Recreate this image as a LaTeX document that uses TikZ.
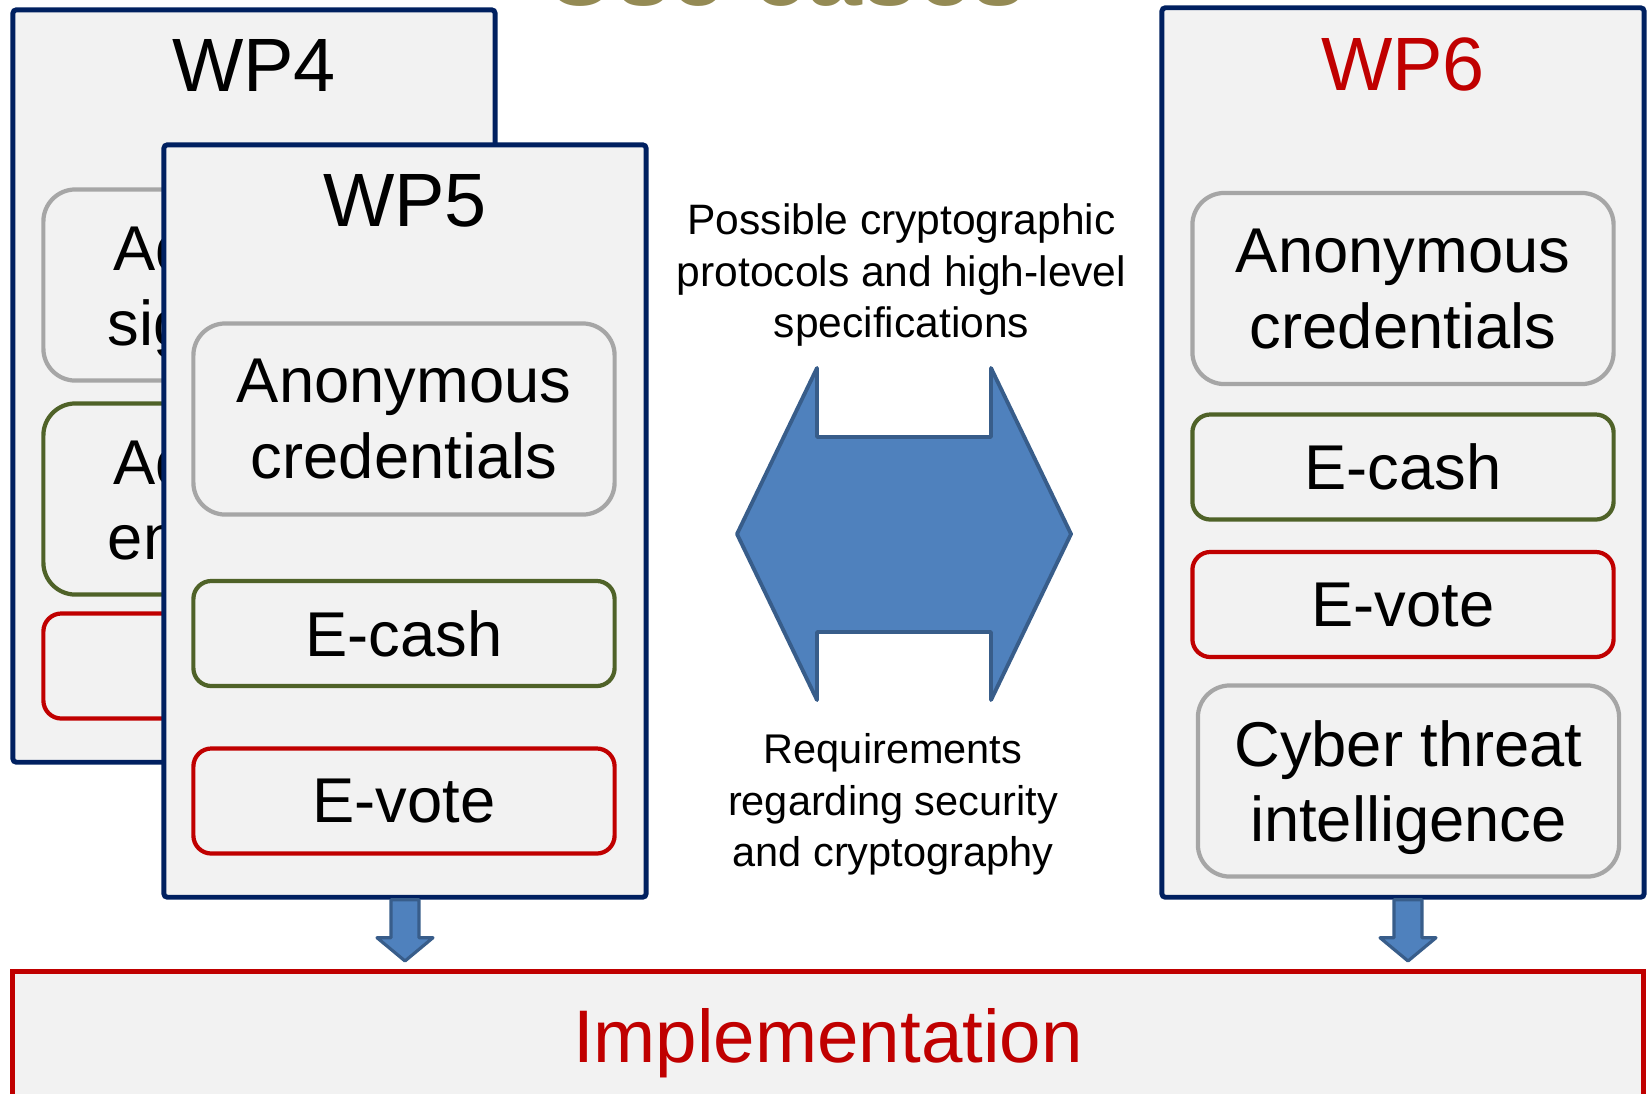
\documentclass[tikz,border=0pt]{standalone}
\usepackage{fontspec}
\setmainfont{Liberation Sans}
\usepackage{xcolor}
\usepackage{tikz}
\usetikzlibrary{calc}

\definecolor{wpnavy}{HTML}{002060}
\definecolor{boxfill}{HTML}{F2F2F2}
\definecolor{itemgray}{HTML}{A6A6A6}
\definecolor{itemgreen}{HTML}{4F6228}
\definecolor{itemred}{HTML}{C00000}
\definecolor{arrowfill}{HTML}{4F81BD}
\definecolor{arrowline}{HTML}{385D8A}
\definecolor{headline}{HTML}{948A54}

\begin{document}
\begin{tikzpicture}[x=0.01cm,y=-0.01cm,
	wpbox/.style={draw=wpnavy, fill=boxfill, line width=1.4pt, rounded corners=1pt, minimum width=4.82cm, minimum height=7.52cm, inner sep=0pt},
	wptitle/.style={anchor=base, font=\fontsize{21.5}{25}\selectfont},
	item/.style={fill=boxfill, line width=1.2pt, minimum width=4.21cm, inner sep=0pt, align=center, text depth=0pt, font=\fontsize{18}{21.5}\selectfont},
	tallitem/.style={item, minimum height=1.91cm, rounded corners=0.32cm},
	shortitem/.style={item, minimum height=1.05cm, rounded corners=0.18cm},
	note/.style={align=center, inner sep=0pt},
	blockarrow/.style={draw=arrowline, fill=arrowfill, line width=0.9pt, line join=round}]
	\useasboundingbox (0,0) rectangle (1651,1093);
	\clip (0,0) rectangle (1651,1093);

	\node[anchor=base, text=headline, font=\bfseries\fontsize{28}{32}\selectfont] (usecases) at (786,5) {Use cases}; % heading, cut by the top edge

	% WP4 (behind WP5)
	\node[wpbox] (wp4) at (254,386) {};
	\node[wptitle] (wp4title) at (254,91) {WP4};
	\node[tallitem, draw=itemgray] (wp4sig) at (254,285) {Advanced\\signatures};
	\node[tallitem, draw=itemgreen] (wp4enc) at (254,499) {Advanced\\encryption};
	\node[shortitem, draw=itemred] (wp4red) at (254,666) {};

	% WP5
	\node[wpbox] (wp5) at (405,521) {};
	\node[wptitle] (wp5title) at (405,226) {WP5};
	\node[tallitem, draw=itemgray] (wp5cred) at (404,419) {Anonymous\\credentials};
	\node[shortitem, draw=itemgreen] (wp5cash) at (404,633.5) {E-cash};
	\node[shortitem, draw=itemred] (wp5vote) at (404,801) {E-vote};

	% WP6
	\node[wpbox, minimum height=8.89cm] (wp6) at (1403,452.5) {};
	\node[wptitle, text=itemred] (wp6title) at (1403,90) {WP6};
	\node[tallitem, draw=itemgray] (wp6cred) at (1403,288.5) {Anonymous\\credentials};
	\node[shortitem, draw=itemgreen] (wp6cash) at (1403,467) {E-cash};
	\node[shortitem, draw=itemred] (wp6vote) at (1403,604.5) {E-vote};
	\node[tallitem, draw=itemgray] (wp6cti) at (1408.5,781) {Cyber threat\\intelligence};

	% exchange between the work packages
	\node[note, font=\fontsize{12.1}{14.7}\selectfont] (protocols) at (901.5,275) {Possible cryptographic\\protocols and high-level\\specifications};
	\node[note, font=\fontsize{11.8}{14.7}\selectfont] (requirements) at (893,804.5) {Requirements\\regarding security\\and cryptography};
	\draw[blockarrow, line width=1.1pt] (737,534) -- (817,368) -- (817,437) -- (991,437) -- (991,368) -- (1071,534) -- (991,700) -- (991,632) -- (817,632) -- (817,700) -- cycle; % double arrow

	% Implementation
	\node[draw=itemred, fill=boxfill, line width=1.4pt, minimum width=16.30cm, minimum height=1.6cm, inner sep=0pt] (impl) at (828,1051.5) {};
	\node[anchor=base, text=itemred, font=\fontsize{21.2}{25}\selectfont] (impltext) at (828,1062) {Implementation};

	% arrows down to the implementation
	\coordinate (a5) at (wp5.south);
	\coordinate (a6) at ($(wp6.south)+(5,0)$);
	\draw[blockarrow] ($(a5)+(-14,0)$) -- ++(0,38) -- ++(-14,0) -- ($(a5 |- impl.north)+(0,-8)$) -- ($(a5)+(28,38)$) -- ++(-14,0) -- ($(a5)+(14,0)$) -- cycle; % WP5 -> Implementation
	\draw[blockarrow] ($(a6)+(-14,0)$) -- ++(0,38) -- ++(-14,0) -- ($(a6 |- impl.north)+(0,-8)$) -- ($(a6)+(28,38)$) -- ++(-14,0) -- ($(a6)+(14,0)$) -- cycle; % WP6 -> Implementation
\end{tikzpicture}
\end{document}
